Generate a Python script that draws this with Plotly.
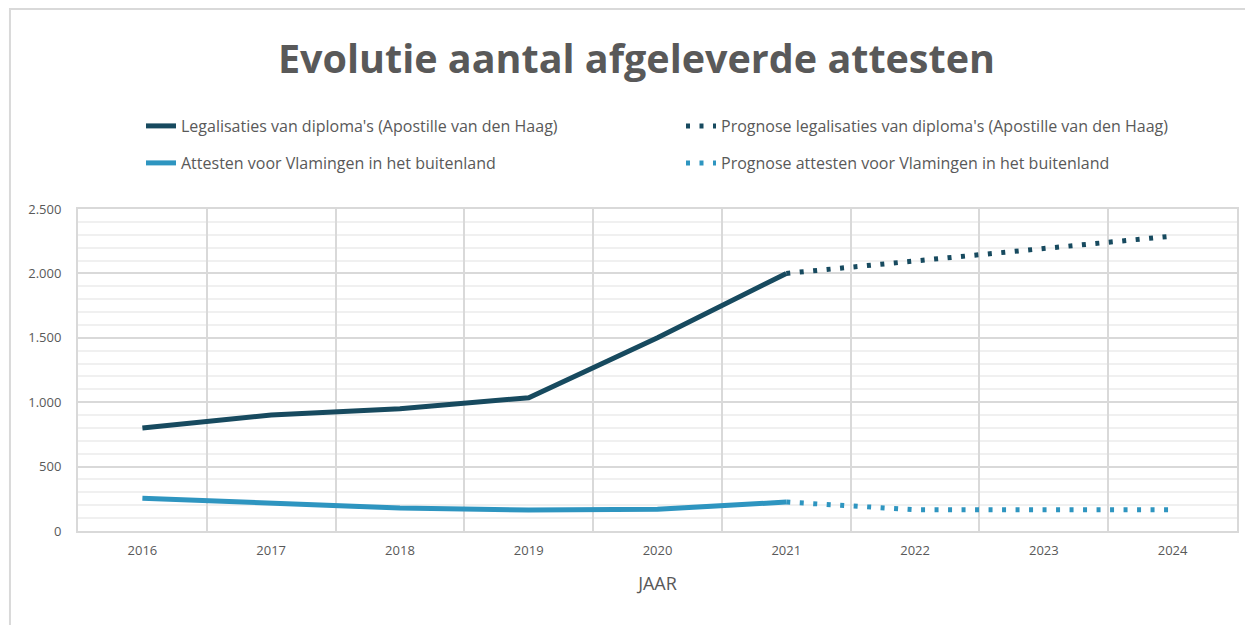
import plotly.graph_objects as go

jaren = ["2016", "2017", "2018", "2019", "2020", "2021", "2022", "2023", "2024"]

legalisaties_jaren = ["2016", "2017", "2018", "2019", "2020", "2021"]
legalisaties = [800, 900, 950, 1035, 1500, 2000]
prognose_leg_jaren = ["2021", "2022", "2023", "2024"]
prognose_leg = [2000, 2097, 2193, 2290]

attesten_jaren = ["2016", "2017", "2018", "2019", "2020", "2021"]
attesten = [255, 218, 178, 163, 168, 225]
prognose_att_jaren = ["2021", "2022", "2023", "2024"]
prognose_att = [225, 165, 165, 165]

donker = "#174a5f"
licht = "#2e95c0"
grijs = "#595959"
FONT = "Open Sans"

# de pagina heeft 8px body-marge, dus de figuur iets kleiner maken
W, H = 1245, 617

fig = go.Figure()
fig.add_trace(go.Scatter(x=legalisaties_jaren, y=legalisaties, mode="lines",
                         name="Legalisaties van diploma's (Apostille van den Haag)",
                         line=dict(color=donker, width=5), legend="legend"))
fig.add_trace(go.Scatter(x=prognose_leg_jaren, y=prognose_leg, mode="lines",
                         name="Prognose legalisaties van diploma's (Apostille van den Haag)",
                         line=dict(color=donker, width=5, dash="4px,9.5px"), legend="legend"))
fig.add_trace(go.Scatter(x=attesten_jaren, y=attesten, mode="lines",
                         name="Attesten voor Vlamingen in het buitenland",
                         line=dict(color=licht, width=5), legend="legend2"))
fig.add_trace(go.Scatter(x=prognose_att_jaren, y=prognose_att, mode="lines",
                         name="Prognose attesten voor Vlamingen in het buitenland",
                         line=dict(color=licht, width=5, dash="4px,9.5px"), legend="legend2"))

# rand rond de hele grafiek
fig.add_shape(type="rect", xref="paper", yref="paper",
              x0=-0.0587, x1=1.03, y0=-0.4, y1=1.621,
              line=dict(color="#d9d9d9", width=2), layer="below")

legende = dict(orientation="h", xref="container", yref="container",
               x=133 / W, xanchor="left", yanchor="middle",
               entrywidth=495, entrywidthmode="pixels",
               font=dict(size=16, color=grijs, family=FONT),
               bgcolor="rgba(0,0,0,0)")

fig.update_layout(
    width=W, height=H,
    paper_bgcolor="white", plot_bgcolor="white",
    separators=",.",
    margin=dict(l=70, r=16, t=201, b=94, autoexpand=False),
    font=dict(family=FONT, color=grijs),
    title=dict(text="<b>Evolutie aantal afgeleverde attesten</b>",
               x=0.5048, xanchor="center", y=1 - 51 / H, yanchor="middle",
               font=dict(size=39.5, color=grijs, family=FONT)),
    legend=dict(legende, y=1 - 118 / H),
    legend2=dict(legende, y=1 - 155 / H),
    showlegend=True,
)

fig.update_xaxes(
    type="category", categoryorder="array", categoryarray=jaren,
    range=[-0.5, 8.5],
    tickson="boundaries", ticks="", ticklabelstandoff=6,
    showgrid=True, gridcolor="#d9d9d9", gridwidth=1.5,
    showline=True, linecolor="#d9d9d9", linewidth=2, mirror=True,
    tickfont=dict(size=13, color=grijs),
    title=dict(text="JAAR", font=dict(size=18, color=grijs), standoff=20),
)
fig.update_yaxes(
    range=[0, 2500], dtick=500, tickformat=",d",
    showgrid=True, gridcolor="#d9d9d9", gridwidth=1.5,
    minor=dict(dtick=100, showgrid=True, gridcolor="#f0f0f0", gridwidth=1.5),
    showline=True, linecolor="#d9d9d9", linewidth=2, mirror=True,
    zeroline=False, ticks="", ticklabelstandoff=12,
    tickfont=dict(size=13, color=grijs),
)

fig.write_html("out.html")
